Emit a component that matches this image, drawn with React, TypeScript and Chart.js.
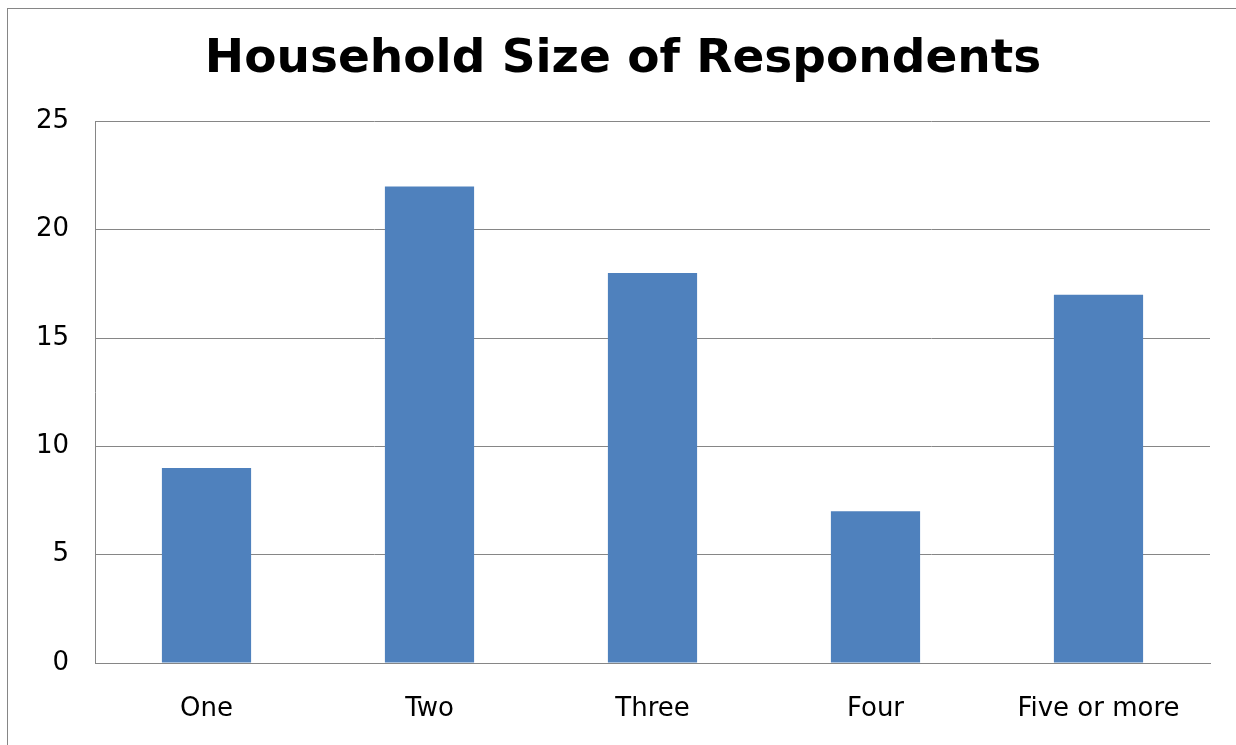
import React, { useEffect, useRef } from "react";
import { Chart, registerables } from "chart.js";

Chart.register(...registerables);

const categories = ["One", "Two", "Three", "Four", "Five or more"];
const respondents = [9, 22, 18, 7, 17];
const yTicks = [0, 5, 10, 15, 20, 25];
const titleText = "Household Size of Respondents";

export default function App() {
  const ref = useRef<HTMLCanvasElement | null>(null);

  useEffect(() => {
    if (!ref.current) return;
    const chart = new Chart(ref.current, {
      type: "bar",
      data: {
        labels: categories,
        datasets: [
          {
            data: respondents,
            backgroundColor: "#4F81BD",
            barPercentage: 0.4,
            categoryPercentage: 1,
          },
        ],
      },
      options: {
        animation: false,
        responsive: false,
        maintainAspectRatio: false,
        layout: { padding: { left: 36, right: 26, top: 0, bottom: 28 } },
        plugins: {
          legend: { display: false },
          tooltip: { enabled: false },
          title: {
            display: true,
            text: titleText,
            color: "#000",
            font: { family: "'DejaVu Sans'", size: 47, weight: "bold" },
            padding: { top: 32, bottom: 33 },
          },
        },
        scales: {
          x: {
            grid: { display: false },
            border: { display: true, color: "#868686", width: 1 },
            afterFit: (axis: any) => {
              axis.height = 54;
            },
            ticks: {
              color: "#000",
              font: { family: "'DejaVu Sans'", size: 26 },
              padding: 23,
              maxRotation: 0,
              autoSkip: false,
            },
          },
          y: {
            min: 0,
            max: 25,
            afterBuildTicks: (axis: any) => {
              axis.ticks = yTicks.map((v) => ({ value: v }));
            },
            afterFit: (axis: any) => {
              axis.width = 59;
            },
            grid: { color: "#868686", lineWidth: 1, drawTicks: false },
            border: { display: true, color: "#868686", width: 1 },
            ticks: {
              color: "#000",
              font: { family: "'DejaVu Sans'", size: 26 },
              padding: 26,
            },
          },
        },
      },
    });
    return () => chart.destroy();
  }, []);

  return (
    <div style={{ position: "fixed", left: 0, top: 0, width: 1236, height: 745, background: "#fff" }}>
      <canvas ref={ref} width={1236} height={745} style={{ display: "block", width: 1236, height: 745 }} />
      <div
        style={{
          position: "absolute",
          left: 7,
          top: 8,
          width: 1229,
          height: 737,
          borderLeft: "1px solid #868686",
          borderTop: "1px solid #868686",
          boxSizing: "border-box",
          pointerEvents: "none",
        }}
      />
    </div>
  );
}
